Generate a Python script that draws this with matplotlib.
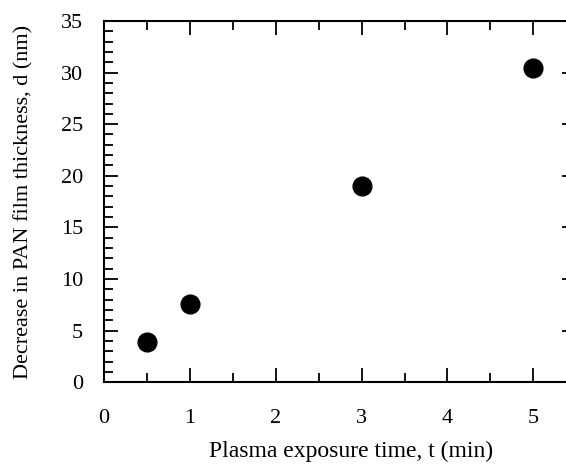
import matplotlib.pyplot as plt
from matplotlib.ticker import MultipleLocator

# data
t_min = [0.5, 1, 3, 5]
thickness_nm = [3.9, 7.6, 19.0, 30.4]

plt.rcParams['font.family'] = ['Liberation Serif', 'DejaVu Serif']

fig = plt.figure(figsize=(5.66, 4.65), dpi=100)
# right spine lies just outside the picture, as in the reference
ax = fig.add_axes([0.184, 0.178, 0.834, 0.777])

ax.plot(t_min, thickness_nm, 'o', color='black', markersize=13.5)

ax.set_xlim(0, 5.5)
ax.set_ylim(0, 35)
ax.xaxis.set_major_locator(MultipleLocator(1))
ax.xaxis.set_minor_locator(MultipleLocator(0.5))
ax.yaxis.set_major_locator(MultipleLocator(5))
ax.yaxis.set_minor_locator(MultipleLocator(1))
ax.tick_params(which='both', direction='in', top=True, right=True, width=1.3, labelsize=16)
ax.tick_params(which='major', length=10)
ax.tick_params(which='minor', length=6.5)
ax.tick_params(axis='x', pad=19)
ax.tick_params(axis='y', pad=15)
for s in ax.spines.values():
    s.set_linewidth(1.5)

ax.set_xlabel('Plasma exposure time, t (min)', fontsize=17)
ax.set_ylabel('Decrease in PAN film thickness, d (nm)', fontsize=16)
ax.xaxis.set_label_coords(0.523, -0.163)
ax.yaxis.set_label_coords(-0.15, 0.5)

fig.savefig('out.png', dpi=100)
